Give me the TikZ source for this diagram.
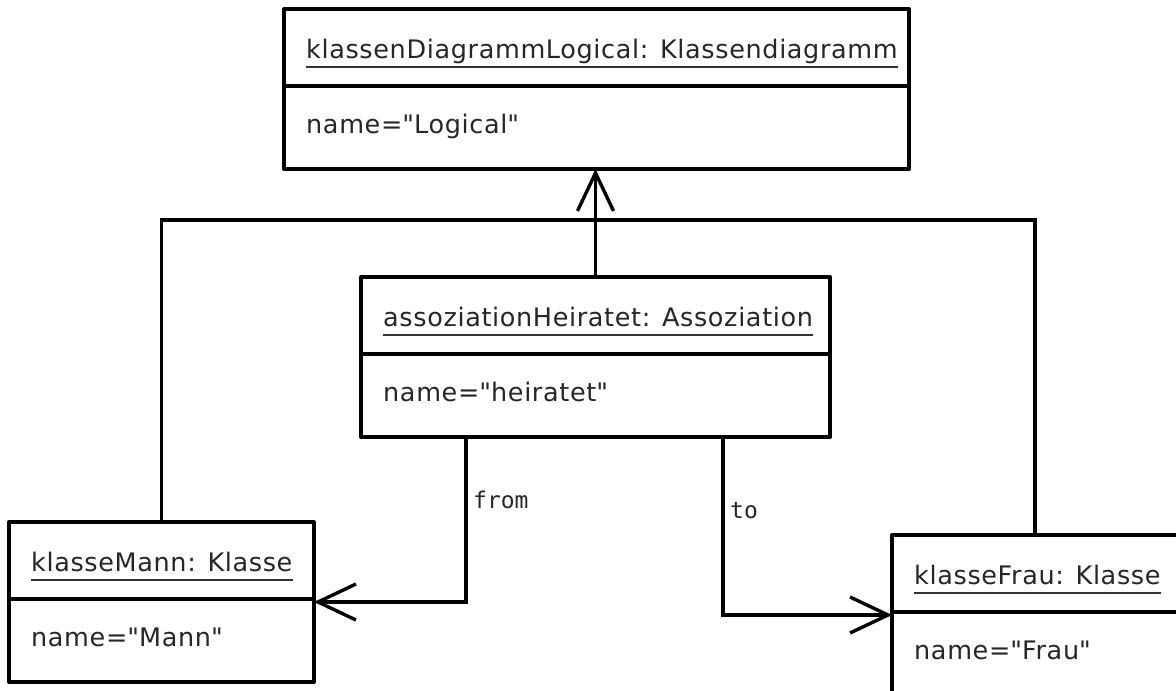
\documentclass[tikz,border=0pt]{standalone}
\usepackage{fontspec}
\setmainfont{DejaVu Sans}[LetterSpace=2.5]
\setmonofont{DejaVu Sans Mono}
\usetikzlibrary{arrows.meta,calc}
\newcommand\dq{\textquotedbl}
\tikzset{
  objbox/.style={draw, line width=4pt, line join=round, anchor=north west,
    minimum height=160pt, inner sep=0pt, outer sep=0pt},
  compline/.style={line width=4pt},
  objtext/.style={anchor=base west, inner sep=0pt, text=black!85,
    font=\fontsize{25.5}{30}\selectfont},
  titleline/.style={line width=1.8pt, draw=black!80},
  link/.style={line width=3.6pt, line join=miter},
  navarrow/.style={-{Straight Barb[length=38pt,width=36pt,line width=3.4pt]}},
  rolelabel/.style={anchor=base west, inner sep=0pt, text=black!85,
    font=\ttfamily\fontsize{23}{27}\selectfont},
}
\begin{document}
\begin{tikzpicture}[x=1pt,y=-1pt]
\clip (0,0) rectangle (1176,691);

% object boxes
\node[objbox, minimum width=625pt] (diag)  at (284,9)   {};
\node[objbox, minimum width=469pt] (assoc) at (361,277) {};
\node[objbox, minimum width=305pt] (mann)  at (9,522)   {};
\node[objbox, minimum width=286pt] (frau)  at (892,535) {};

% compartments, titles and attributes
\foreach \obj/\title/\attr in {
    diag/{klassenDiagrammLogical: Klassendiagramm}/{name=\dq Logical\dq},
    assoc/{assoziationHeiratet: Assoziation}/{name=\dq heiratet\dq},
    mann/{klasseMann: Klasse}/{name=\dq Mann\dq},
    frau/{klasseFrau: Klasse}/{name=\dq Frau\dq}} {
  \draw[compline] ($(\obj.north west)+(0,77)$) -- ($(\obj.north east)+(0,77)$);
  \node[objtext] (\obj T) at ($(\obj.north west)+(22,49)$) {\title};
  \draw[titleline] ($(\obj T.base west)+(0,9)$) -- ($(\obj T.base east)+(0,9)$);
  \node[objtext] (\obj A) at ($(\obj.north west)+(22,124)$) {\attr};
}

% links to the class diagram
\coordinate (hub) at (597,220);
\draw[link] (mann.north) |- (hub) -| (frau.north);
\draw[link, navarrow] (assoc.north) -- (assoc.north |- diag.south);

% association ends
\coordinate (fromx) at (466,0);
\coordinate (tox) at (723,0);
\draw[link, navarrow] (assoc.south -| fromx) |- (mann.east);
\draw[link, navarrow] (assoc.south -| tox) |- (frau.west);
\node[rolelabel] (fromL) at (473,508) {from};
\node[rolelabel] (toL) at (730,518) {to};
\end{tikzpicture}
\end{document}
